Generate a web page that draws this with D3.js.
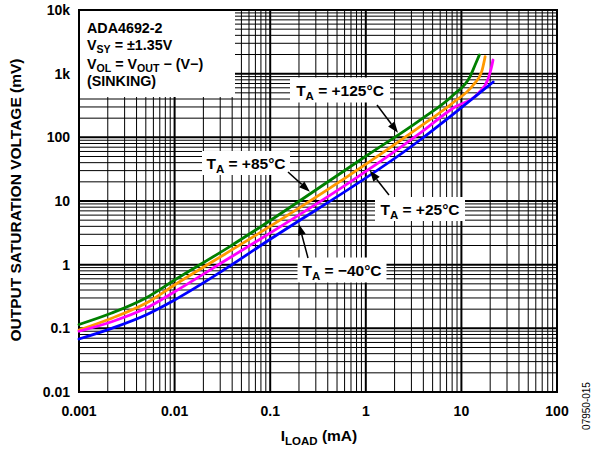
<!DOCTYPE html>
<html><head><meta charset="utf-8">
<script src="https://cdn.jsdelivr.net/npm/d3@7"></script>
<style>
body{margin:0;background:#fff}
text{font-family:Arial,"Liberation Sans",Helvetica,sans-serif;font-weight:bold;fill:#000}
</style>
</head><body>
<svg id="c" width="593" height="452"></svg>
<script>
// ---- data ----
const xTicks = [0.001, 0.01, 0.1, 1, 10, 100];
const xTickLabels = ["0.001", "0.01", "0.1", "1", "10", "100"];
const yTicks = [0.01, 0.1, 1, 10, 100, 1000, 10000];
const yTickLabels = ["0.01", "0.1", "1", "10", "100", "1k", "10k"];

const seriesLabels = ["+125°C", "+85°C", "+25°C", "\u221240°C"];
const seriesColors = ["#008000", "#ff9900", "#ff00ff", "#0000ff"];

// I_LOAD (mA) and V_OL (mV) per temperature
const iLoad125 = [0.001, 0.0022, 0.005, 0.01, 0.037, 0.076, 1.0, 3.69, 8.22, 12.3, 13.9, 15.4];
const vol125   = [0.115, 0.174, 0.30, 0.574, 1.89, 3.77, 50.5, 187, 462, 896, 1367, 1963];

const iLoad85 = [0.001, 0.0022, 0.005, 0.01, 0.037, 0.076, 3.69, 8.22, 13.3, 16.3, 17.7];
const vol85   = [0.094, 0.144, 0.247, 0.48, 1.6, 3.1, 147, 352, 663, 1074, 1845];

const iLoad25 = [0.001, 0.0022, 0.005, 0.01, 0.037, 0.076, 3.69, 8.22, 15.0, 19.1, 20.7, 21.4];
const vol25   = [0.09, 0.127, 0.206, 0.376, 1.26, 2.44, 116, 289, 491, 845, 1286, 1638];

const iLoadM40 = [0.001, 0.0022, 0.005, 0.01, 0.037, 0.076, 3.69, 8.22, 14.0, 21.5];
const volM40   = [0.068, 0.1, 0.162, 0.279, 0.93, 1.91, 90.8, 232, 440, 740];

const seriesI = [iLoad125, iLoad85, iLoad25, iLoadM40];
const seriesV = [vol125, vol85, vol25, volM40];

// annotation: which series and load current the arrow points at
const annoCurrent = [2.17, 0.26, 1.1, 0.2];
const annoSeries = [0, 0, 2, 3];

// ---- chart ----
const svg = d3.select("#c");
const L = 79, R = 557, T = 10, B = 392;
const x = d3.scaleLog().domain([0.001, 100]).range([L, R]);
const y = d3.scaleLog().domain([0.01, 10000]).range([B, T]);

// grid
const grid = svg.append("g");
const xGrid = [], yGrid = [];
for (let d = -3; d < 2; d++) for (let k = 1; k < 10; k++) xGrid.push({v: k * Math.pow(10, d), major: k === 1});
for (let d = -2; d < 4; d++) for (let k = 1; k < 10; k++) yGrid.push({v: k * Math.pow(10, d), major: k === 1});
grid.selectAll(".vx").data(xGrid).join("line")
  .attr("x1", d => x(d.v)).attr("x2", d => x(d.v)).attr("y1", T).attr("y2", B)
  .attr("stroke", "#000").attr("stroke-width", d => d.major ? 2 : 1);
grid.selectAll(".hy").data(yGrid).join("line")
  .attr("y1", d => y(d.v)).attr("y2", d => y(d.v)).attr("x1", L).attr("x2", R)
  .attr("stroke", "#000").attr("stroke-width", d => d.major ? 2 : 1);
svg.append("rect").attr("x", L).attr("y", T).attr("width", R - L).attr("height", B - T)
  .attr("fill", "none").attr("stroke", "#000").attr("stroke-width", 2);

// curves
const line = d3.line().x(d => x(d[0])).y(d => y(d[1])).curve(d3.curveMonotoneX);
seriesI.forEach((arr, i) => {
  const pts = arr.map((v, j) => [v, seriesV[i][j]]);
  svg.append("path").datum(pts).attr("d", line)
    .attr("fill", "none").attr("stroke", seriesColors[i]).attr("stroke-width", 2.8)
    .attr("stroke-linecap", "round");
});

// rich text helper
function rich(g, px, py, parts, size, anchor, subShift) {
  const sh = subShift == null ? size * 0.28 : subShift;
  const t = g.append("text").attr("x", px).attr("y", py)
    .attr("font-size", size).attr("text-anchor", anchor || "start");
  let off = 0;
  parts.forEach(p => {
    const sub = !!p.sub;
    const dy = sub ? (off === 0 ? sh : 0) : (off !== 0 ? -off : 0);
    const s = t.append("tspan").text(p.t).attr("dy", dy);
    if (sub) { s.attr("font-size", size * 0.74); off = sh; } else { off = 0; }
  });
  return t;
}

// axis tick labels
svg.selectAll(".xl").data(xTicks).join("text")
  .attr("x", d => x(d)).attr("y", 416).attr("text-anchor", "middle")
  .attr("font-size", 14).text((d, i) => xTickLabels[i]);
svg.selectAll(".yl").data(yTicks).join("text")
  .attr("x", 70).attr("y", d => y(d)).attr("dy", "0.36em").attr("text-anchor", "end")
  .attr("font-size", 14).text((d, i) => yTickLabels[i]);

// axis titles
svg.append("text").attr("transform", "translate(21,200) rotate(-90)")
  .attr("text-anchor", "middle").attr("font-size", 15.5).text("OUTPUT SATURATION VOLTAGE (mV)");
rich(svg, 319, 441, [{t: "I"}, {t: "LOAD", sub: true}, {t: " (mA)"}], 15.5, "middle");

// figure id
svg.append("text").attr("transform", "translate(590,406) rotate(-90)")
  .attr("text-anchor", "middle").attr("font-size", 10)
  .style("font-weight", "normal").text("07950-015");

// legend box
const lg = svg.append("g");
lg.append("rect").attr("x", L + 1).attr("y", T + 1).attr("width", 155).attr("height", 86).attr("fill", "#fff");
rich(lg, 87, 32.5, [{t: "ADA4692-2"}], 14.3);
rich(lg, 87, 49.5, [{t: "V"}, {t: "SY", sub: true}, {t: " = ±1.35V"}], 14.3, "start", 3.2);
rich(lg, 87, 68.5, [{t: "V"}, {t: "OL", sub: true}, {t: " = V"}, {t: "OUT", sub: true}, {t: " \u2212 (V\u2212)"}], 14.3, "start", 3.2);
rich(lg, 87, 86, [{t: "(SINKING)"}], 14.3);

// annotations: box center, arrow tail, tip offset
const annoBox = [
  {cx: 340, cy: 91, w: 100, h: 25, tail: [377, 105], dy: -2},
  {cx: 246, cy: 164, w: 88, h: 24, tail: [288, 172], dy: -2},
  {cx: 420, cy: 210, w: 90, h: 24, tail: [389, 195], dy: 4},
  {cx: 342, cy: 271, w: 89, h: 25, tail: [308, 258], dy: 4}
];
function yOn(si, I) {
  const xs = seriesI[si].map(Math.log10), vs = seriesV[si].map(Math.log10);
  const li = Math.log10(I);
  let j = d3.bisectLeft(xs, li); j = Math.max(1, Math.min(xs.length - 1, j));
  const f = (li - xs[j - 1]) / (xs[j] - xs[j - 1]);
  return y(Math.pow(10, vs[j - 1] + f * (vs[j] - vs[j - 1])));
}
const ag = svg.append("g");
annoBox.forEach((a, i) => {
  ag.append("rect").attr("x", a.cx - a.w / 2).attr("y", a.cy - a.h / 2 - 1)
    .attr("width", a.w).attr("height", a.h).attr("fill", "#fff");
  rich(ag, a.cx, a.cy + 5, [{t: "T"}, {t: "A", sub: true}, {t: " = " + seriesLabels[i]}], 15.5, "middle");
  const tx = x(annoCurrent[i]), ty = yOn(annoSeries[i], annoCurrent[i]) + a.dy;
  const [sx, sy] = a.tail;
  const ang = Math.atan2(ty - sy, tx - sx);
  const hl = 11, hw = 4;
  const bx = tx - hl * Math.cos(ang), by = ty - hl * Math.sin(ang);
  ag.append("line").attr("x1", sx).attr("y1", sy).attr("x2", bx).attr("y2", by)
    .attr("stroke", "#000").attr("stroke-width", 1.5);
  const px = -Math.sin(ang), py = Math.cos(ang);
  ag.append("path").attr("d", `M${tx},${ty}L${bx + px * hw},${by + py * hw}L${bx - px * hw},${by - py * hw}Z`)
    .attr("fill", "#000");
});
</script>
</body></html>
